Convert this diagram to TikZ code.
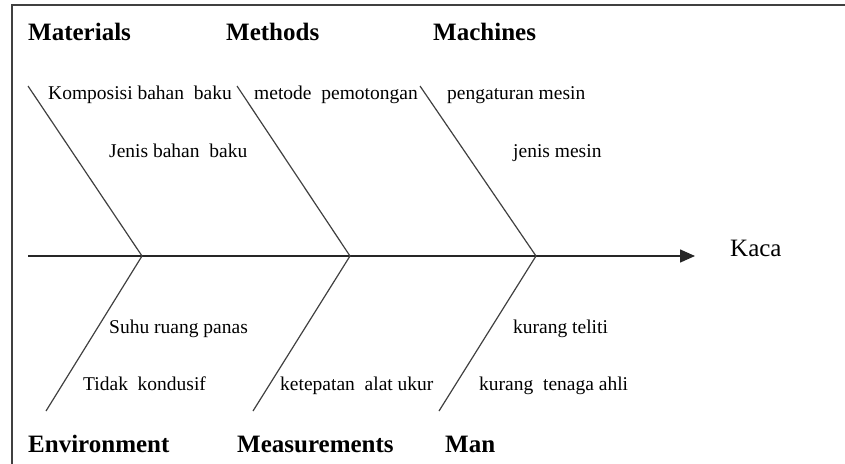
\documentclass[tikz,border=0pt]{standalone}
\usepackage{fontspec}
\setmainfont{Liberation Serif}
\usetikzlibrary{arrows.meta}
\begin{document}
\begin{tikzpicture}[x=1pt,y=-1pt,
  cat/.style={anchor=base west,inner sep=0pt,font=\fontsize{25}{28}\selectfont\bfseries},
  cause/.style={anchor=base west,inner sep=0pt,font=\fontsize{19.5}{22}\selectfont},
  bone/.style={draw=black!75,line width=1.2pt},
  spine/.style={draw=black!85,line width=1.5pt},
  frame/.style={draw=black!75,line width=2pt}]
\useasboundingbox (0,0) rectangle (845,463);
% frame (top and left edges)
\coordinate (fTL) at (11.5,4.5);
\coordinate (fTR) at (846,4.5);
\coordinate (fBL) at (11.5,464);
\draw[frame] (fTR) -- (fTL) -- (fBL);
% joints and bone ends
\coordinate (j1) at (142,256);
\coordinate (j2) at (350,256);
\coordinate (j3) at (536,256);
\coordinate (u1) at (28,86);
\coordinate (u2) at (237,86);
\coordinate (u3) at (420,86);
\coordinate (l1) at (46,411);
\coordinate (l2) at (253,411);
\coordinate (l3) at (439,411);
\coordinate (s0) at (28,256);
\coordinate (s1) at (695,256);
% spine
\draw[spine,-{Triangle[length=15pt,width=13pt]}] (s0) -- (s1);
% bones
\draw[bone] (u1) -- (j1) -- (l1);
\draw[bone] (u2) -- (j2) -- (l2);
\draw[bone] (u3) -- (j3) -- (l3);
% categories
\node[cat] (mat) at (28,40) {Materials};
\node[cat] (met) at (226,40) {Methods};
\node[cat] (mac) at (433,40) {Machines};
\node[cat] (env) at (28,452) {Environment};
\node[cat] (mea) at (237,452) {Measurements};
\node[cat] (man) at (445,452) {Man};
% causes
\node[cause] (c1) at (48,99) {Komposisi bahan\ \ baku};
\node[cause] (c2) at (109,157) {Jenis bahan\ \ baku};
\node[cause] (c3) at (254,99) {metode\ \ pemotongan};
\node[cause] (c4) at (447,99) {pengaturan mesin};
\node[cause] (c5) at (513,157) {jenis mesin};
\node[cause] (c6) at (109,333) {Suhu ruang panas};
\node[cause] (c7) at (83,390) {Tidak\ \ kondusif};
\node[cause] (c8) at (280,390) {ketepatan\ \ alat ukur};
\node[cause] (c9) at (513,333) {kurang teliti};
\node[cause] (c10) at (479,390) {kurang\ \ tenaga ahli};
% effect
\node[anchor=base west,inner sep=0pt,font=\fontsize{25}{28}\selectfont] (kaca) at (730,256) {Kaca};
\end{tikzpicture}
\end{document}
